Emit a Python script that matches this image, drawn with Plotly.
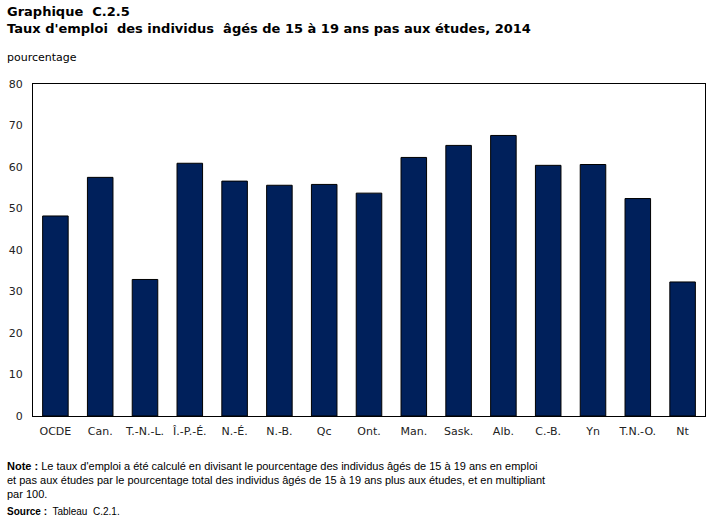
import plotly.graph_objects as go

categories = ["OCDE", "Can.", "T.-N.-L.", "Î.-P.-É.", "N.-É.", "N.-B.", "Qc", "Ont.",
              "Man.", "Sask.", "Alb.", "C.-B.", "Yn", "T.N.-O.", "Nt"]
values = [48.2, 57.5, 32.9, 60.9, 56.6, 55.6, 55.8, 53.7, 62.3, 65.2, 67.6, 60.4, 60.6, 52.4, 32.3]
y_ticks = [0, 10, 20, 30, 40, 50, 60, 70, 80]

FONT = "DejaVu Sans"
NOTE_FONT = "Liberation Sans"

W, H = 718, 521
L, R, T, B = 33, 13, 84, 105
PW, PH = W - L - R, H - T - B

fig = go.Figure(go.Bar(
    x=categories, y=values,
    marker=dict(color="#00205B", line=dict(color="#000000", width=1)),
    hoverinfo="x+y",
))

fig.update_layout(
    width=W, height=H,
    margin=dict(l=L, r=R, t=T, b=B),
    paper_bgcolor="white", plot_bgcolor="white",
    bargap=0.43,
    showlegend=False,
    font=dict(family=FONT, size=11, color="#222222"),
    xaxis=dict(showline=True, linecolor="black", linewidth=1, mirror=True,
               ticks="", ticklabelstandoff=5, automargin=False,
               tickfont=dict(size=11, family=FONT), fixedrange=True),
    yaxis=dict(range=[0, 80], tickvals=y_ticks, showline=True, linecolor="black",
               linewidth=1, mirror=True, showgrid=False, zeroline=False, ticks="",
               ticklabelstandoff=7, automargin=False,
               tickfont=dict(size=11, family=FONT), fixedrange=True),
)

annotations = [
    dict(text="<b>Graphique  C.2.5</b>", x=5, y=12, size=13, fam=FONT),
    dict(text="<b>Taux d'emploi  des individus  âgés de 15 à 19 ans pas aux études, 2014</b>", x=5, y=29, size=13, fam=FONT),
    dict(text="pourcentage", x=5, y=57, size=11, fam=FONT),
    dict(text="<b>Note :</b> Le taux d'emploi a été calculé en divisant le pourcentage des individus âgés de 15 à 19 ans en emploi", x=5, y=466, size=11, fam=NOTE_FONT),
    dict(text="et pas aux études par le pourcentage total des individus âgés de 15 à 19 ans plus aux études, et en multipliant", x=5, y=480, size=11, fam=NOTE_FONT),
    dict(text="par 100.", x=5, y=494, size=11, fam=NOTE_FONT),
    dict(text="<b>Source :</b>  Tableau  C.2.1.", x=5, y=511, size=10, fam=NOTE_FONT),
]
for a in annotations:
    fig.add_annotation(
        text=a["text"], x=(a["x"] - L) / PW, y=(H - B - a["y"]) / PH,
        xref="paper", yref="paper",
        xanchor="left", yanchor="middle", showarrow=False,
        font=dict(family=a["fam"], size=a["size"], color="#000000"),
    )

fig.write_html("out.html")
